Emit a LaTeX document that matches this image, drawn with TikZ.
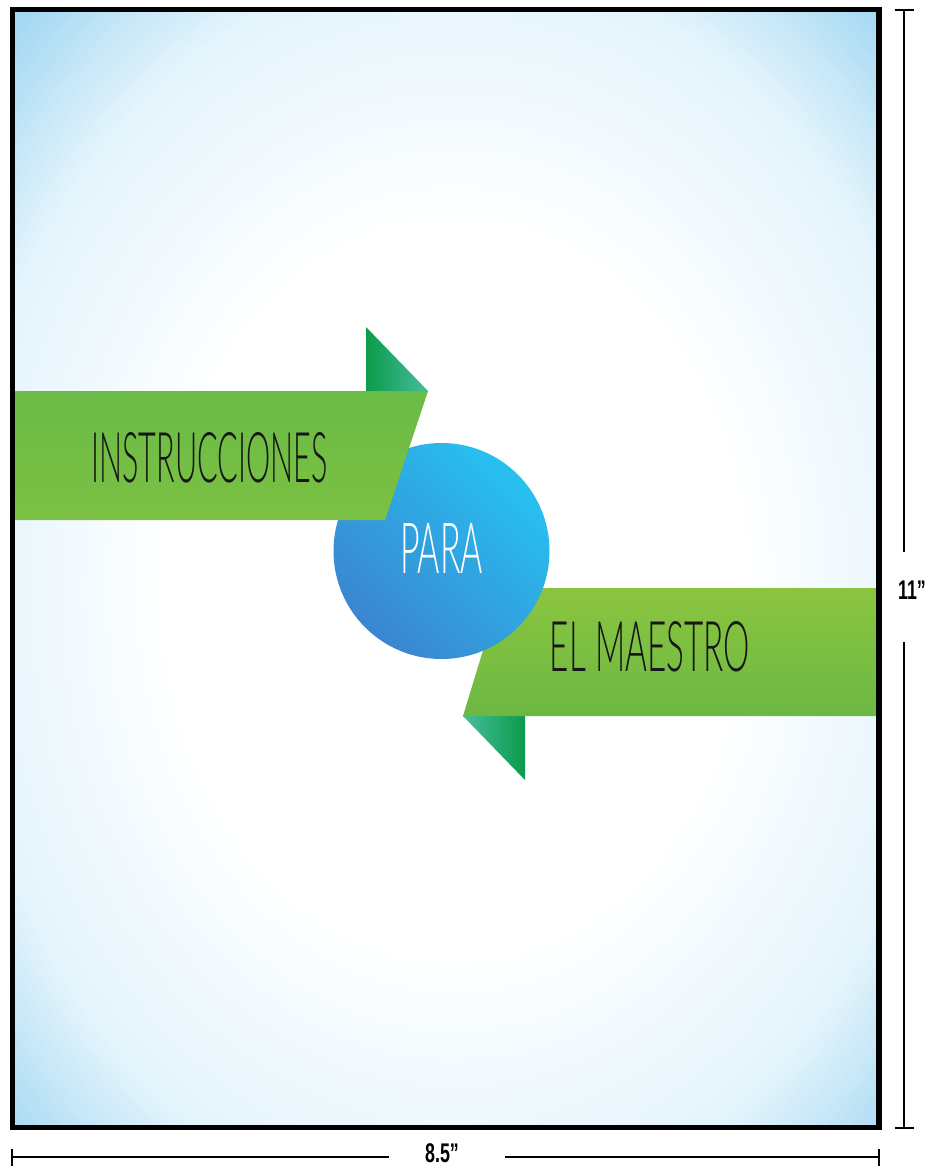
\documentclass[tikz,border=0pt]{standalone}
\usepackage{fontspec}
\usepackage{graphicx}
\IfFontExistsTF{Lato Light}{\newfontfamily\handfont{Lato Light}}{\newfontfamily\handfont{Lato}}
\newfontfamily\dimfont[FakeStretch=0.66]{Liberation Sans}

\definecolor{bgmid}{HTML}{E4F4FC}
\definecolor{bgedge}{HTML}{A6D9F3}
\definecolor{ribA}{HTML}{6ABB46}
\definecolor{ribB}{HTML}{7CC143}
\definecolor{ribC}{HTML}{8BC53F}
\definecolor{ribD}{HTML}{6CB844}
\definecolor{tridark}{HTML}{0B9B4A}
\definecolor{trilight}{HTML}{46BD9E}
\definecolor{discA}{HTML}{27C1F0}
\definecolor{discB}{HTML}{3A86D0}
\definecolor{inkdark}{HTML}{161616}

\tikzset{
  dimline/.style={line width=1.2pt, draw=black},
  handtext/.style={inner sep=0pt, anchor=center},
  dimlabel/.style={inner sep=0pt, font=\dimfont\bfseries\fontsize{27}{27}\selectfont}
}

\begin{document}
\begin{tikzpicture}[x=1pt, y=-1pt]
\useasboundingbox (0,0) rectangle (930,1167);
\fill[white] (0,0) rectangle (930,1167);

% page background: white core fading to pale blue toward the corners,
% built from nested ellipses
\begin{scope}
  \clip (12.5,9.5) rectangle (879,1127.5);
  \fill[bgedge] (12.5,9.5) rectangle (879,1127.5);
  \foreach \k in {0,...,48}{
    \pgfmathsetmacro{\r}{1.0-0.6*\k/48}
    \pgfmathsetmacro{\pa}{max(0,min(100,100*(\r-0.8)/0.2))}
    \pgfmathsetmacro{\pb}{max(0,min(100,100*(\r-0.47)/0.33))}
    \pgfmathparse{\r>=0.8 ? 1 : 0}
    \ifnum\pgfmathresult=1
      \colorlet{ringcol}{bgedge!\pa!bgmid}
    \else
      \colorlet{ringcol}{bgmid!\pb!white}
    \fi
    \fill[ringcol] (455,590) ellipse[x radius=625*\r, y radius=790*\r];
  }
\end{scope}

% lower ribbon with its folded tail
\shade[left color=trilight, right color=tridark] (463,716) -- (525,716) -- (525,780) -- cycle;
\shade[top color=ribC, bottom color=ribD] (502,588) -- (879,588) -- (879,716) -- (463,716) -- cycle;

% central disc
\shade[top color=discA, bottom color=discB, shading angle=-45] (441.5,551) circle[radius=108];

% upper ribbon with its folded tail
\shade[left color=tridark, right color=trilight] (366,327) -- (366,391) -- (428,391) -- cycle;
\shade[top color=ribA, bottom color=ribB] (12.5,391) -- (428,391) -- (385,520) -- (12.5,520) -- cycle;

% labels
\node[handtext, text=inkdark] (instr) at (209.5,457.5) {\resizebox{236pt}{50pt}{\handfont INSTRUCCIONES}};
\node[handtext, text=white] (para) at (441.5,548) {\resizebox{83pt}{50pt}{\handfont PARA}};
\node[handtext, text=inkdark] (maestro) at (650,647) {\resizebox{200pt}{50pt}{\handfont EL MAESTRO}};

% page frame
\draw[line width=5.5pt] (12.5,9.5) rectangle (879,1127.5);

% height dimension
\coordinate (vt) at (904,10);
\coordinate (vb) at (904,1128);
\coordinate (vt1) at (904,552);
\coordinate (vb1) at (904,642);
\draw[dimline] (vt) -- (vt1);
\draw[dimline] (vb1) -- (vb);
\draw[dimline] ([xshift=-9.5pt]vt) -- ([xshift=9.5pt]vt);
\draw[dimline] ([xshift=-9.5pt]vb) -- ([xshift=9.5pt]vb);
\node[dimlabel] (dimV) at (912,590) {11”};

% width dimension
\coordinate (hl) at (12,1157);
\coordinate (hr) at (879,1157);
\coordinate (hl1) at (389,1157);
\coordinate (hr1) at (505,1157);
\draw[dimline] (hl) -- (hl1);
\draw[dimline] (hr1) -- (hr);
\draw[dimline] ([yshift=-8.5pt]hl) -- ([yshift=8.5pt]hl);
\draw[dimline] ([yshift=-8.5pt]hr) -- ([yshift=8.5pt]hr);
\node[dimlabel] (dimH) at (442,1153.5) {8.5”};
\end{tikzpicture}
\end{document}
